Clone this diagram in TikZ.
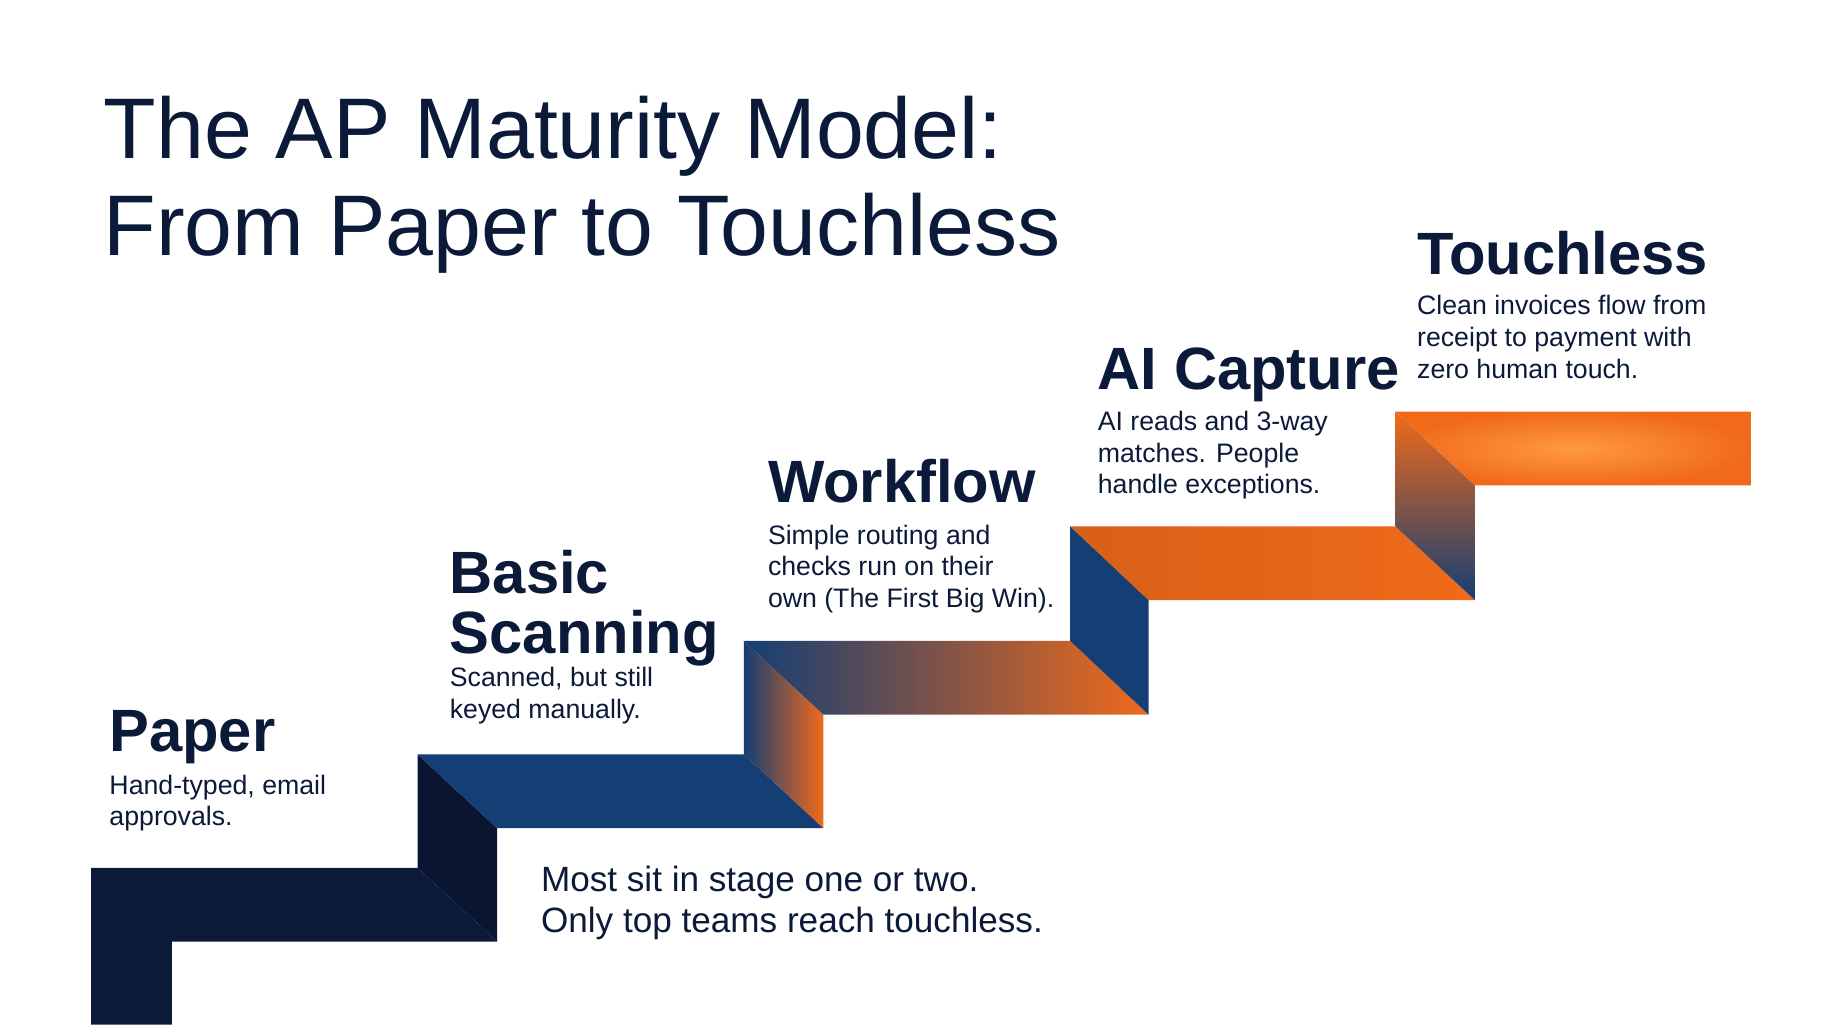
\documentclass[tikz,border=0pt]{standalone}
\usepackage{fontspec}
\setmainfont{Liberation Sans}
\definecolor{navy}{HTML}{0C1A3A}
\definecolor{apblue}{HTML}{143E74}
\definecolor{aporange}{HTML}{F06A1A}
\definecolor{aplight}{HTML}{FF9A40}
\tikzset{
  stagetitle/.style={anchor=north west, inner sep=0pt, font=\fontsize{17}{17}\selectfont\bfseries, text=navy, align=left},
  stagebody/.style={anchor=north west, inner sep=0pt, font=\fontsize{7.6}{9}\selectfont, text=navy, align=left},
}
\begin{document}
\begin{tikzpicture}[x=0.011696cm, y=-0.011696cm]
  \useasboundingbox (0,0) rectangle (1568,875.5);
  \fill[white] (0,0) rectangle (1568,875.5);

  % steps
  \fill[navy] (78,876) -- (78,742) -- (357,742) -- (425,805) -- (147,805) -- (147,876) -- cycle;
  \fill[navy!85!black] (357,645) -- (425,708) -- (425,805) -- (357,742) -- cycle;
  \fill[apblue] (357,645) -- (636,645) -- (704,708) -- (425,708) -- cycle;
  \shade[left color=apblue, right color=aporange] (636,548) -- (704,611) -- (704,708) -- (636,645) -- cycle;
  \shade[left color=apblue, right color=aporange] (636,548) -- (915,548) -- (982,611) -- (704,611) -- cycle;
  \fill[apblue] (915,450) -- (982,513) -- (982,611) -- (915,548) -- cycle;
  \shade[left color=aporange!90!black, right color=aporange] (915,450) -- (1193,450) -- (1261,513) -- (982,513) -- cycle;
  \shade[top color=aporange, bottom color=apblue] (1193,352) -- (1261,415) -- (1261,513) -- (1193,450) -- cycle;
  \shade[inner color=aplight, outer color=aporange] (1193,352) -- (1497,352) -- (1497,415) -- (1261,415) -- cycle;

  % texts
  \node[anchor=north west, inner sep=0pt, font=\fontsize{24.5}{27.5}\selectfont, text=navy, align=left] (title) at (88,82)
    {The AP Maturity Model:\\From Paper to Touchless};

  \node[stagetitle] (paper) at (93,607) {Paper};
  \node[stagebody] (paperbody) at (93,662) {Hand-typed, email\\approvals.};

  \node[stagetitle] (scan) at (384,470) {Basic\\Scanning};
  \node[stagebody] (scanbody) at (384,570) {Scanned, but still\\keyed manually.};

  \node[stagetitle] (flow) at (656,392) {Workflow};
  \node[stagebody] (flowbody) at (656,448) {Simple routing and\\checks run on their\\own (The First Big Win).};

  \node[stagetitle] (ai) at (938,297) {AI Capture};
  \node[stagebody] (aibody) at (938,351) {AI reads and 3-way\\matches. People\\handle exceptions.};

  \node[stagetitle] (touch) at (1211,197) {Touchless};
  \node[stagebody] (touchbody) at (1211,252) {Clean invoices flow from\\receipt to payment with\\zero human touch.};

  \node[anchor=north west, inner sep=0pt, font=\fontsize{10}{11.6}\selectfont, text=navy, align=left] (note) at (462,740)
    {Most sit in stage one or two.\\Only top teams reach touchless.};
\end{tikzpicture}
\end{document}
